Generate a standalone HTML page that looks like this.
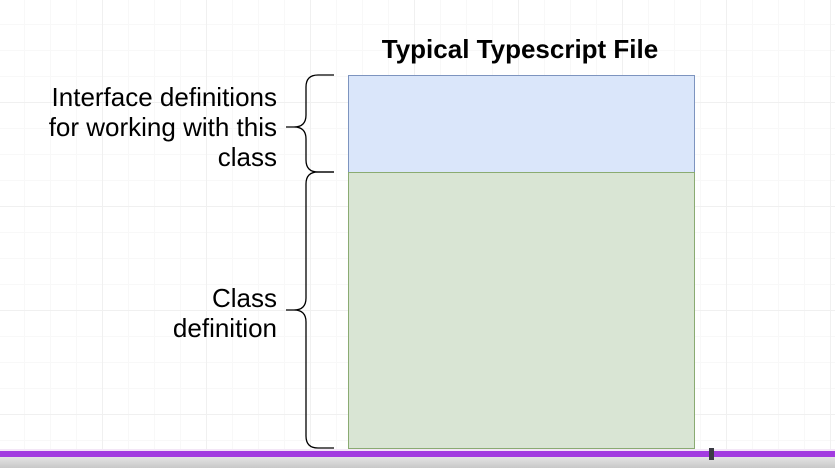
<!DOCTYPE html>
<html><head><style>
body{margin:0;width:835px;height:468px;overflow:hidden;background:#fff;font-family:"Liberation Sans",sans-serif;position:relative}
.grid{position:absolute;left:0;top:0;width:835px;height:451px;
background-image:linear-gradient(to right,#f0f0f0 1px,transparent 1px),linear-gradient(to bottom,#f0f0f0 1px,transparent 1px),linear-gradient(to right,#f8f8f8 1px,transparent 1px),linear-gradient(to bottom,#f8f8f8 1px,transparent 1px);
background-size:104px 104px,104px 104px,26px 26px,26px 26px;background-position:-2px -2px}
.t{position:absolute;font-size:26px;color:#000;text-align:right;line-height:30px}
</style></head><body>
<div class="grid"></div>
<div style="position:absolute;left:348px;top:75px;width:345px;height:96px;background:#dae6fa;border:1px solid #7d94bf"></div>
<div style="position:absolute;left:348px;top:172px;width:345px;height:275px;background:#d9e5d4;border:1px solid #8aab72"></div>
<div class="t" style="left:320px;top:34px;width:400px;text-align:center;font-weight:bold">Typical Typescript File</div>
<div class="t" style="left:0px;top:82px;width:277px">Interface definitions<br>for working with this<br>class</div>
<div class="t" style="left:0px;top:283px;width:277px">Class<br>definition</div>
<svg width="835" height="468" style="position:absolute;left:0;top:0" fill="none" stroke="#000" stroke-width="1.3">
<path d="M334 75 H318 Q306 75 306 87 V115 Q306 127 294 127 H286 M294 127 Q306 127 306 139 V160 Q306 172 318 172 H334"/>
<path d="M334 172 H318 Q306 172 306 184 V298 Q306 310 294 310 H286 M294 310 Q306 310 306 322 V436 Q306 448 318 448 H334"/>
</svg>
<div style="position:absolute;left:0;top:449px;width:835px;height:2px;background:#f3e6f7"></div>
<div style="position:absolute;left:0;top:451px;width:835px;height:6px;background:#a23be0"></div>
<div style="position:absolute;left:0;top:457px;width:835px;height:11px;background:linear-gradient(#e4e4e4,#c8c8c8)"></div>
<div style="position:absolute;left:709px;top:448px;width:5px;height:12px;background:#3a3a44"></div>
</body></html>
